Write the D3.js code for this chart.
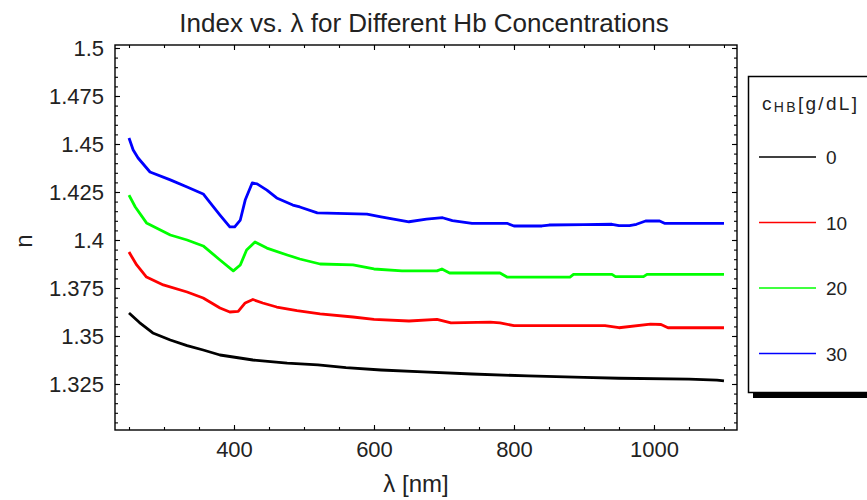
<!DOCTYPE html>
<html>
<meta charset="utf-8">
<head>
<style>
body { margin: 0; background: #fff; }
svg text { font-family: "Liberation Sans", Arial, sans-serif; fill: #222; }
</style>
<script src="https://d3js.org/d3.v7.min.js"></script>
</head>
<body>
<script>
// wavelength (nm) and refractive index, one pair per curve
var lamBlack = [250, 265, 284, 309, 333, 356, 380, 427, 476, 520, 560, 610, 670, 740, 820, 900, 950, 1050, 1090, 1100];
var nBlack   = [1.3620, 1.3570, 1.3516, 1.3479, 1.3450, 1.3427, 1.3401, 1.3375, 1.3359, 1.3350, 1.3335, 1.3323, 1.3313, 1.3302, 1.3292, 1.3285, 1.3280, 1.3275, 1.3270, 1.3266];

var lamRed = [250, 261, 275, 299, 333, 356, 380, 394, 406, 416, 427, 441, 461, 490, 523, 570, 600, 650, 690, 710, 766, 780, 800, 930, 950, 995, 1010, 1020, 1100];
var nRed   = [1.3937, 1.3870, 1.3807, 1.3766, 1.3729, 1.3698, 1.3646, 1.3625, 1.3628, 1.3672, 1.3690, 1.3672, 1.3651, 1.3632, 1.3615, 1.3599, 1.3587, 1.3578, 1.3587, 1.3568, 1.3572, 1.3568, 1.3554, 1.3554, 1.3543, 1.3562, 1.3560, 1.3543, 1.3543];

var lamGreen = [250, 259, 275, 309, 333, 356, 380, 399, 409, 418, 430, 447, 476, 494, 523, 570, 600, 640, 690, 697, 708, 780, 790, 880, 885, 940, 945, 985, 990, 1100];
var nGreen   = [1.4234, 1.4172, 1.4089, 1.4026, 1.4000, 1.3969, 1.3896, 1.3839, 1.3870, 1.3948, 1.3990, 1.3958, 1.3922, 1.3901, 1.3875, 1.3870, 1.3849, 1.3839, 1.3839, 1.3849, 1.3828, 1.3828, 1.3807, 1.3807, 1.3821, 1.3821, 1.3809, 1.3809, 1.3821, 1.3821];

var lamBlue = [250, 256, 263, 280, 309, 333, 356, 363, 380, 394, 401, 409, 416, 426, 433, 447, 461, 484, 494, 519, 590, 610, 630, 650, 675, 698, 712, 740, 790, 800, 840, 850, 900, 940, 950, 965, 975, 988, 1008, 1015, 1100];
var nBlue   = [1.4531, 1.4469, 1.4427, 1.4354, 1.4313, 1.4276, 1.4240, 1.4208, 1.4130, 1.4068, 1.4068, 1.4104, 1.4208, 1.4297, 1.4292, 1.4260, 1.4219, 1.4182, 1.4172, 1.4141, 1.4135, 1.4121, 1.4108, 1.4095, 1.4109, 1.4116, 1.4101, 1.4087, 1.4087, 1.4073, 1.4073, 1.4078, 1.4080, 1.4082, 1.4075, 1.4075, 1.4082, 1.4099, 1.4099, 1.4087, 1.4087];

var concLabels = ["0", "10", "20", "30"];
var colors = ["#000000", "#ff0000", "#00ff00", "#0000ff"];

var xMajor = [400, 600, 800, 1000];
var yMajor = [1.325, 1.35, 1.375, 1.4, 1.425, 1.45, 1.475, 1.5];

var series = [
    {lam: lamBlack, n: nBlack},
    {lam: lamRed, n: nRed},
    {lam: lamGreen, n: nGreen},
    {lam: lamBlue, n: nBlue}
];

var W = 867, H = 500;
var margin = {top: 45, right: 130, bottom: 70, left: 115},
    width = 737 - margin.left,
    height = 430 - margin.top;

var svg = d3.select("body").append("svg")
    .attr("width", W)
    .attr("height", H);

var x = d3.scaleLinear().domain([230, 1118.6]).range([0, width]);
var y = d3.scaleLinear().domain([1.30104, 1.50156]).range([height, 0]);

var g = svg.append("g")
    .attr("transform", "translate(" + margin.left + "," + margin.top + ")");

// minor ticks
var xMinor = d3.range(250, 1101, 50);
var yMinor = d3.range(1.305, 1.5001, 0.005);

function tickStyle(sel) {
    sel.select(".domain").remove();
    sel.selectAll("line").attr("stroke", "#000").attr("stroke-width", 1.1);
    sel.selectAll("text").style("font-size", "22px").attr("fill", "#222");
}

g.append("g").attr("transform", "translate(0," + height + ")")
    .call(d3.axisBottom(x).tickValues(xMinor).tickSize(-3).tickFormat("")).call(tickStyle);
g.append("g")
    .call(d3.axisTop(x).tickValues(xMinor).tickSize(-3).tickFormat("")).call(tickStyle);
g.append("g")
    .call(d3.axisLeft(y).tickValues(yMinor).tickSize(-3).tickFormat("")).call(tickStyle);
g.append("g").attr("transform", "translate(" + width + ",0)")
    .call(d3.axisRight(y).tickValues(yMinor).tickSize(-3).tickFormat("")).call(tickStyle);

// major ticks with labels
g.append("g").attr("transform", "translate(0," + height + ")")
    .call(d3.axisBottom(x).tickValues(xMajor).tickSize(-5).tickPadding(11).tickFormat(d3.format("d"))).call(tickStyle);
g.append("g")
    .call(d3.axisTop(x).tickValues(xMajor).tickSize(-5).tickFormat("")).call(tickStyle);
g.append("g")
    .call(d3.axisLeft(y).tickValues(yMajor).tickSize(-5).tickPadding(11).tickFormat(function(d) { return d3.format("")(+d.toFixed(3)); })).call(tickStyle);
g.append("g").attr("transform", "translate(" + width + ",0)")
    .call(d3.axisRight(y).tickValues(yMajor).tickSize(-5).tickFormat("")).call(tickStyle);

// frame
g.append("rect")
    .attr("width", width)
    .attr("height", height)
    .attr("fill", "none")
    .attr("stroke", "#000")
    .attr("stroke-width", 1.4);

// curves
var line = d3.line()
    .x(function(d) { return x(d[0]); })
    .y(function(d) { return y(d[1]); });

series.forEach(function(s, i) {
    g.append("path")
        .datum(d3.zip(s.lam, s.n))
        .attr("fill", "none")
        .attr("stroke", colors[i])
        .attr("stroke-width", 2.8)
        .attr("stroke-linejoin", "round")
        .attr("d", line);
});

// title and axis labels
svg.append("text")
    .attr("x", 424)
    .attr("y", 32)
    .attr("text-anchor", "middle")
    .style("font-size", "26px")
    .text("Index vs. \u03bb for Different Hb Concentrations");

svg.append("text")
    .attr("x", 416)
    .attr("y", 492)
    .attr("text-anchor", "middle")
    .style("font-size", "24px")
    .text("\u03bb [nm]");

svg.append("text")
    .attr("transform", "translate(32,241) rotate(-90)")
    .attr("text-anchor", "middle")
    .style("font-size", "24px")
    .text("n");

// legend
var leg = svg.append("g");
leg.append("rect")
    .attr("x", 753).attr("y", 392)
    .attr("width", 120).attr("height", 6)
    .attr("fill", "#000");
leg.append("rect")
    .attr("x", 748.5).attr("y", 76.5)
    .attr("width", 130).attr("height", 316)
    .attr("fill", "#fff")
    .attr("stroke", "#000")
    .attr("stroke-width", 1.5);

var lt = leg.append("text")
    .attr("x", 762).attr("y", 110)
    .attr("textLength", 95)
    .attr("lengthAdjust", "spacing")
    .style("font-size", "19px");
lt.append("tspan").text("c");
lt.append("tspan").attr("dy", 2).style("font-size", "14px").text("HB");
lt.append("tspan").attr("dy", -2).text("[g/dL]");

concLabels.forEach(function(c, i) {
    var yy = 157 + i * 65.5;
    leg.append("line")
        .attr("x1", 759).attr("x2", 816)
        .attr("y1", yy).attr("y2", yy)
        .attr("stroke", colors[i])
        .attr("stroke-width", 1.5);
    leg.append("text")
        .attr("x", 826).attr("y", yy + 7)
        .style("font-size", "19px")
        .text(c);
});
</script>
</body>
</html>
